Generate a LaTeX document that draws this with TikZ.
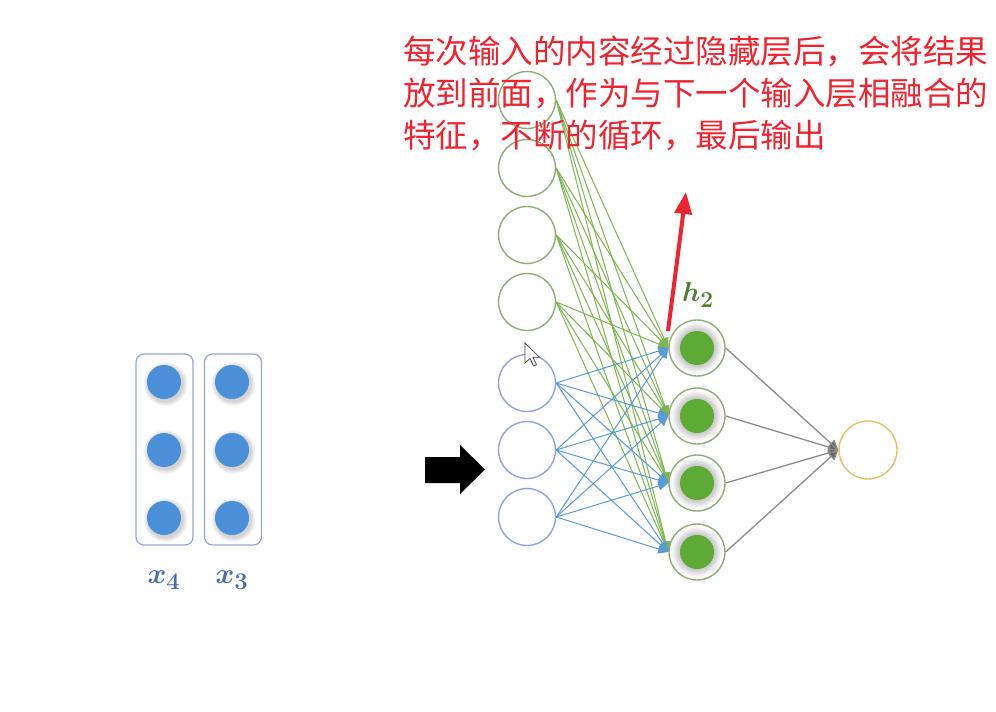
\documentclass[tikz,border=0pt]{standalone}
\usepackage{fontspec}
\newfontfamily\cjk{Noto Sans CJK SC}
\usepackage{bm}
\usetikzlibrary{arrows.meta}
\definecolor{gline}{HTML}{7DB552}
\definecolor{bline}{HTML}{5B9BD5}
\definecolor{gring}{HTML}{8DAE78}
\definecolor{bring}{HTML}{8EA5D6}
\definecolor{hfill}{HTML}{5DAA35}
\definecolor{dotblue}{HTML}{4A8FD8}
\definecolor{boxblue}{HTML}{8FA8D6}
\definecolor{labblue}{HTML}{4A6DB0}
\definecolor{labgreen}{HTML}{4F7F33}
\definecolor{outgold}{HTML}{E2C26A}
\definecolor{annred}{HTML}{EE2430}
\definecolor{conngray}{HTML}{8C8C8C}
\begin{document}
\begin{tikzpicture}[x=1pt,y=-1pt,
  incircle/.style={circle, minimum size=57pt, inner sep=0pt, line width=1.4pt, fill=white},
  greenin/.style={incircle, draw=gring},
  bluein/.style={incircle, draw=bring},
  hidnode/.style={circle, minimum size=56pt, inner sep=0pt, line width=1.4pt, draw=gring, fill=white},
  outnode/.style={circle, minimum size=58pt, inner sep=0pt, line width=1.4pt, draw=outgold, fill=white},
  seqbox/.style={draw=boxblue, line width=1.2pt, rounded corners=8pt, minimum width=57pt, minimum height=191pt, inner sep=0pt},
  gconn/.style={draw=gline, line width=1pt, -{Triangle[length=10pt,width=9pt,fill=gline]}},
  bconn/.style={draw=bline, line width=1pt, -{Triangle[length=10pt,width=9pt,fill=bline]}},
  oconn/.style={draw=conngray, line width=1.3pt, -{Triangle[length=10pt,width=10pt,fill=black!60]}},
  redarrow/.style={draw=annred, line width=4pt, -{Triangle[length=22pt,width=17pt,fill=annred]}},
  labtext/.style={font=\fontsize{30}{30}\selectfont, inner sep=0pt},
  anntext/.style={text=annred, font=\cjk\fontsize{32.5}{42}\selectfont, anchor=base west, inner sep=0pt}
]
\useasboundingbox (0,0) rectangle (996,712);
\fill[white] (0,0) rectangle (996,712);

% input sequence boxes
\node[seqbox] (box4) at (164.5,449.5) {};
\node[seqbox] (box3) at (233,449.5) {};
\foreach \xx/\nm in {164/a,232/b}{
  \foreach \yy [count=\k] in {382,450,518}{
    \foreach \r in {22,21,20,19,18}{
      \fill[black, opacity=0.035] (\xx+1.5,\yy+2) circle (\r pt);
    }
    \fill[dotblue] (\xx,\yy) circle (17pt);
  }
}
\node[labtext, text=labblue] (lx4) at (164,580) {\scalebox{1.15}{$\bm{x}_{\bm{4}}$}};
\node[labtext, text=labblue] (lx3) at (232,580) {\scalebox{1.15}{$\bm{x}_{\bm{3}}$}};

% block arrow
\fill[black] (425,457) -- (460,457) -- (460,445) -- (485,469.5) -- (460,494) -- (460,483) -- (425,483) -- cycle;

% input layer
\foreach \yy [count=\k] in {100,168,235,302}{
  \node[greenin] (g\k) at (527,\yy) {};
}
\foreach \yy [count=\k] in {383,450,517}{
  \node[bluein] (b\k) at (527,\yy) {};
}

% hidden layer
\foreach \yy [count=\k] in {348,416,483,552}{
  \node[hidnode] (h\k) at (697,\yy) {};
  \foreach \r in {25,24,23,22,21,20,19,18}{
    \fill[black, opacity=0.028] (h\k.center) circle (\r pt);
  }
  \fill[hfill] (h\k.center) circle (17pt);
}

% output
\node[outnode] (o) at (868,450) {};

% connectors
\foreach \i in {1,...,4}{
  \foreach \j in {1,...,4}{
    \draw[gconn] (g\i.east) -- (h\j.west);
  }
}
\foreach \i in {1,...,3}{
  \foreach \j in {1,...,4}{
    \draw[bconn] (b\i.east) -- (h\j.west);
  }
}
\foreach \j in {1,...,4}{
  \draw[oconn] (h\j.east) -- (o.west);
}

\node[labtext, text=labgreen] (lh2) at (698,295) {\scalebox{1.1}{$\bm{h}_{\bm{2}}$}};

% red annotation arrow
\coordinate (rs) at (668,331);
\coordinate (re) at (686,192);
\draw[redarrow] (rs) -- (re);

% mouse cursor
\coordinate (cur) at (525,343);
\filldraw[fill=white, draw=black!70, line width=0.8pt, shift={(cur)}]
  (0,0) -- (0,20) -- (5,15.5) -- (8.5,23) -- (11.5,21.7) -- (8,14.3) -- (14.5,14.3) -- cycle;

% annotation text
\node[anntext] (t1) at (403,63) {每次输入的内容经过隐藏层后，会将结果};
\node[anntext] (t2) at (403,105) {放到前面，作为与下一个输入层相融合的};
\node[anntext] (t3) at (403,147) {特征，不断的循环，最后输出};
\end{tikzpicture}
\end{document}
